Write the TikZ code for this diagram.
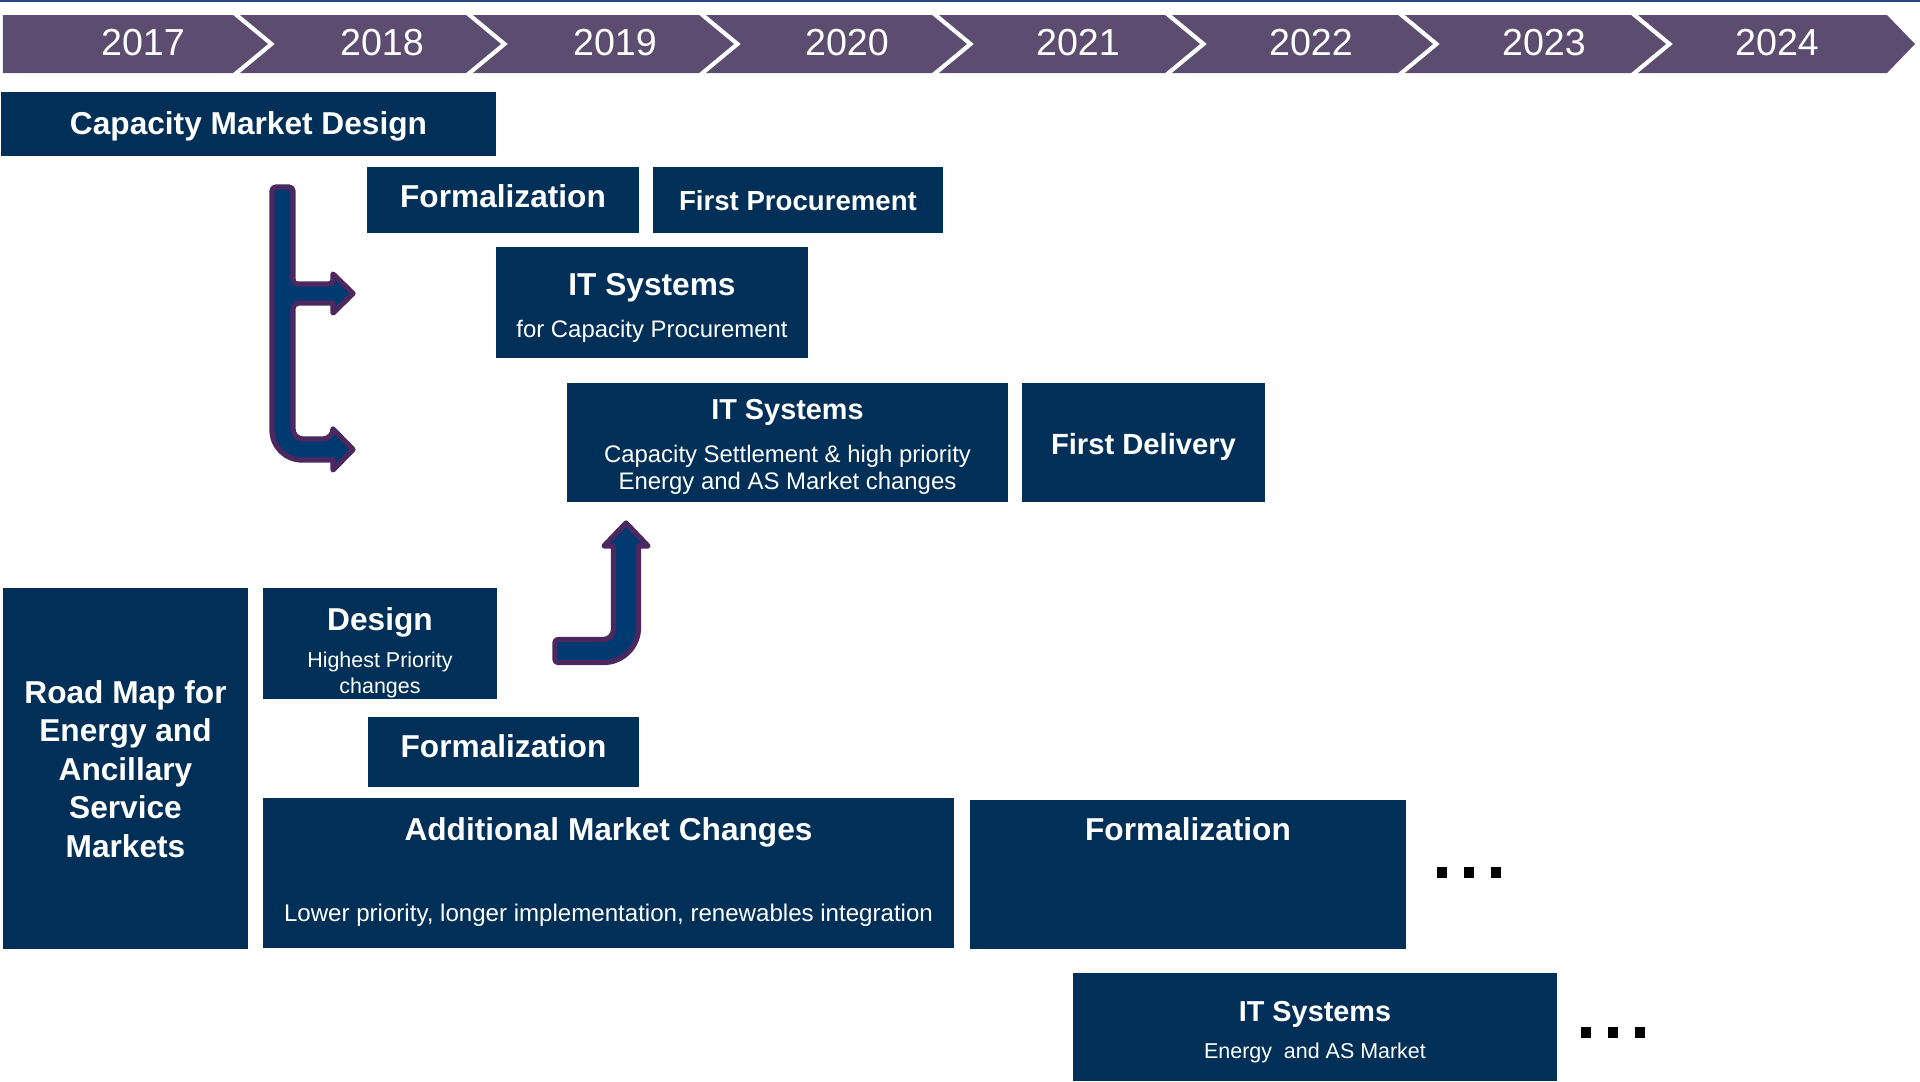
\documentclass[tikz,border=0pt]{standalone}
\usepackage{fontspec}
\setmainfont{Liberation Sans}
\definecolor{boxblue}{RGB}{0,48,87}
\definecolor{arrowblue}{RGB}{0,58,112}
\definecolor{arrowrim}{RGB}{76,40,96}
\definecolor{barpurple}{RGB}{91,76,112}
\definecolor{topline}{RGB}{40,70,130}
\tikzset{
  box/.style = {fill=boxblue, inner sep=0pt, outer sep=0pt},
  head/.style = {text=white, inner sep=0pt, align=center,
    font=\bfseries\fontsize{9}{11}\selectfont},
  sub/.style = {text=white, inner sep=0pt, align=center,
    font=\fontsize{6.8}{7.7}\selectfont},
  chevron/.style = {fill=barpurple},
  yeartext/.style = {text=white, inner sep=0pt,
    font=\fontsize{10.7}{12}\selectfont},
  bigarrow/.style = {fill=arrowblue, draw=arrowrim, line width=1.5pt,
    line join=round},
  dot/.style = {fill=black, minimum size=0.105cm, inner sep=0pt}
}

\begin{document}
\begin{tikzpicture}[x=0.01cm, y=-0.01cm]
\useasboundingbox (0,0) rectangle (1920,1081);
\draw[topline, line width=0.015cm] (0,0.75) -- (1920,0.75);

% year bar
\foreach \yr/\tip/\dep/\tx [count=\k, remember=\tip as \prev (initially 31)] in
  {2017/268/35/143, 2018/501/35/382, 2019/734/35/615, 2020/967/35/847,
   2021/1200/35/1078, 2022/1433/35/1311, 2023/1666/35/1544, 2024/1915/28/1777}
{
  \pgfmathsetmacro{\nd}{\k==1 ? 0 : 35}
  \fill[chevron] (\prev-28,15) -- (\tip-\dep,15) -- (\tip,44) -- (\tip-\dep,73)
    -- (\prev-28,73) -- (\prev-28+\nd,44) -- cycle;
  \node[yeartext] (y\yr) at (\tx,43) {\yr};
}

% capacity market
\node[box, minimum width=4.95cm, minimum height=0.64cm] (cmd) at (248.5,124) {};
\node[head] (cmdT) at (248.5,126) {Capacity Market Design};
\node[box, minimum width=2.72cm, minimum height=0.66cm] (form1) at (503,200) {};
\node[head] (form1T) at (503,196.5) {Formalization};
\node[box, minimum width=2.90cm, minimum height=0.66cm] (proc1) at (798,200) {};
\node[head, font=\bfseries\fontsize{7.85}{9}\selectfont] (proc1T) at (798,201) {First Procurement};
\node[box, minimum width=3.12cm, minimum height=1.11cm] (itcap) at (652,302.5) {};
\node[head] (itcapT) at (652,288) {IT Systems};
\node[sub] (itcapS) at (652,331.5) {for Capacity Procurement};
\node[box, minimum width=4.41cm, minimum height=1.19cm] (itset) at (787.5,442.5) {};
\node[head, font=\bfseries\fontsize{8.2}{10}\selectfont] (itsetT) at (787.5,412.5) {IT Systems};
\node[sub] (itsetS) at (787.5,469.5) {Capacity Settlement \& high priority\\Energy and AS Market changes};
\node[box, minimum width=2.43cm, minimum height=1.19cm] (fdel) at (1143.5,442.5) {};
\node[head, font=\bfseries\fontsize{8.3}{10}\selectfont] (fdelT) at (1143.5,446.5) {First Delivery};

% energy and AS markets
\node[box, minimum width=2.45cm, minimum height=3.61cm] (road) at (125.5,768.5) {};
\node[head, font=\bfseries\fontsize{9}{10.95}\selectfont] (roadT) at (125.5,769)
  {Road Map for\\Energy and\\Ancillary\\Service\\Markets};
\node[box, minimum width=2.34cm, minimum height=1.11cm] (design) at (380,643.5) {};
\node[head] (designT) at (380,622) {Design};
\node[sub, font=\fontsize{6.1}{7.4}\selectfont] (designS) at (380,675) {Highest Priority\\changes};
\node[box, minimum width=2.71cm, minimum height=0.70cm] (form2) at (503.5,752) {};
\node[head] (form2T) at (503.5,746) {Formalization};
\node[box, minimum width=6.91cm, minimum height=1.50cm] (addl) at (608.5,873) {};
\node[head] (addlT) at (608.5,832) {Additional Market Changes};
\node[sub, font=\fontsize{6.85}{8}\selectfont] (addlS) at (608.5,915)
  {Lower priority, longer implementation, renewables integration};
\node[box, minimum width=4.36cm, minimum height=1.49cm] (form3) at (1188,874.5) {};
\node[head] (form3T) at (1188,829) {Formalization};
\node[box, minimum width=4.84cm, minimum height=1.08cm] (itesm) at (1315,1027) {};
\node[head, font=\bfseries\fontsize{8.2}{10}\selectfont] (itesmT) at (1315,1014.5) {IT Systems};
\node[sub, font=\fontsize{6.1}{7.4}\selectfont] (itesmS) at (1315,1053) {Energy\ \ and AS Market};

% continuation marks
\foreach \i in {0,1,2} {
  \node[dot] (dotA\i) at (1442+27*\i,872.5) {};
  \node[dot] (dotB\i) at (1586+27*\i,1032.5) {};
}

% branching arrow
\draw[bigarrow, rounded corners=0.04cm] (272,187) -- (293,187) -- (293,284)
  -- (333,284) [sharp corners] -- (333,274) -- (353,293.5) -- (333,313)
  -- (333,303) [rounded corners=0.06cm] -- (293,303) [rounded corners=0.1cm]
  -- (293,439) -- (333,439) [sharp corners] -- (333,429) -- (353,449.5)
  -- (333,470) -- (333,460) [rounded corners=0.3cm] -- (272,460)
  [rounded corners=0.04cm] -- cycle;

% bent arrow
\draw[bigarrow, rounded corners=0.03cm] (555,639.5) [rounded corners=0.1cm]
  -- (613.5,639.5) [sharp corners] -- (613.5,546) -- (604,546) -- (626,523)
  -- (648,546) -- (638.5,546) [rounded corners=0.35cm] -- (638.5,662.5)
  [rounded corners=0.03cm] -- (555,662.5) -- cycle;
\end{tikzpicture}
\end{document}
